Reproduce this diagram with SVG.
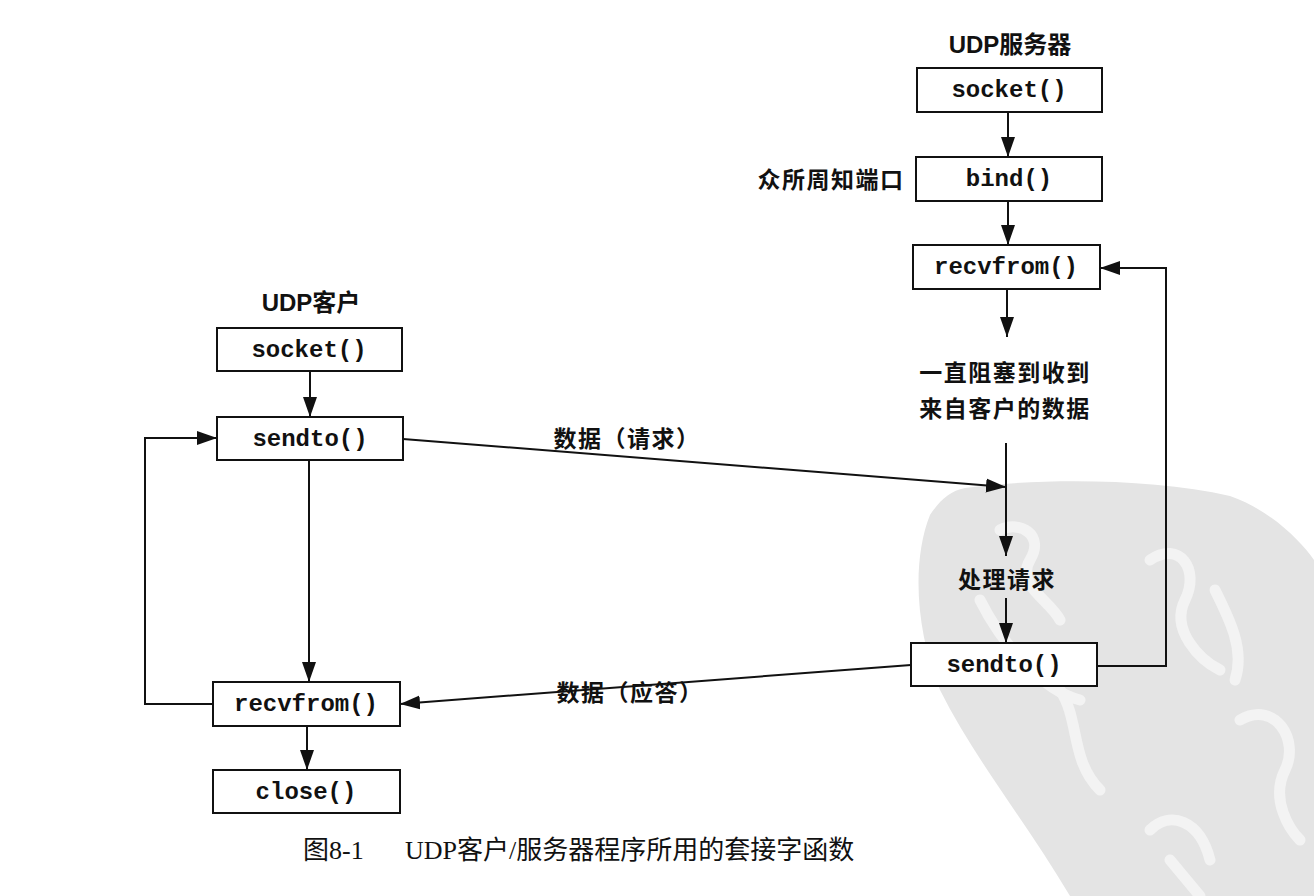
<svg xmlns="http://www.w3.org/2000/svg" width="1314" height="896" viewBox="0 0 1314 896">
  <defs>
    <marker id="arrow" markerUnits="userSpaceOnUse" markerWidth="21" markerHeight="15" refX="20" refY="7" orient="auto">
      <path d="M0,0 L20,7 L0,14 Z" fill="#111"/>
    </marker>
    <style>
      .box { fill: #fff; stroke: #111; stroke-width: 2; }
      .fn { font-family: "Liberation Mono", "DejaVu Sans Mono", monospace; font-weight: bold; font-size: 24px; fill: #111; text-anchor: middle; dominant-baseline: central; }
      .head { font-family: "Liberation Sans", "Noto Sans CJK SC", sans-serif; font-weight: bold; font-size: 24px; fill: #111; text-anchor: middle; dominant-baseline: central; }
      .lbl { font-family: "Noto Sans CJK SC", sans-serif; font-weight: bold; font-size: 23px; letter-spacing: 1.5px; fill: #111; text-anchor: middle; dominant-baseline: central; }
      .cap { font-family: "Liberation Serif", "Noto Sans CJK SC", serif; font-size: 26px; fill: #111; dominant-baseline: central; }
      .wire-arrow { fill: none; stroke: #111; stroke-width: 2; marker-end: url(#arrow); }
      .seal { fill: none; stroke: #f3f3f3; stroke-width: 11; stroke-linecap: round; stroke-linejoin: round; }
    </style>
  </defs>

  <rect width="1314" height="896" fill="#fff"/>

  <!-- library stamp in the lower right corner -->
  <g id="stamp">
    <path d="M 965 488 C 1040 478, 1150 478, 1230 496 C 1270 510, 1300 540, 1314 560 L 1314 896 L 1070 896 C 1025 820, 975 760, 940 690 C 915 630, 912 560, 930 515 C 940 500, 950 491, 965 488 Z" fill="#e4e4e4"/>
    <path class="seal" d="M 1000 530 C 1020 520, 1045 535, 1030 560 C 1015 585, 1050 600, 1060 620"/>
    <path class="seal" d="M 980 600 C 1000 640, 1040 690, 1080 700"/>
    <path class="seal" d="M 1060 690 C 1080 720, 1070 760, 1100 790"/>
    <path class="seal" d="M 1150 560 C 1180 540, 1200 570, 1185 600 C 1170 630, 1200 660, 1220 670"/>
    <path class="seal" d="M 1215 590 C 1230 620, 1245 650, 1235 680"/>
    <path class="seal" d="M 1240 720 C 1275 700, 1300 740, 1285 770 C 1270 800, 1290 830, 1300 840"/>
    <path class="seal" d="M 1150 830 C 1170 810, 1200 820, 1210 860 M 1170 860 L 1200 896"/>
  </g>

  <!-- connectors -->
  <g id="connectors">
    <!-- server side -->
    <line class="wire-arrow" x1="1008" y1="112" x2="1008" y2="157"/>
    <line class="wire-arrow" x1="1008" y1="201" x2="1008" y2="245"/>
    <line class="wire-arrow" x1="1007" y1="289" x2="1007" y2="337"/>
    <line class="wire-arrow" x1="1006" y1="443" x2="1006" y2="556"/>
    <line class="wire-arrow" x1="1006" y1="598" x2="1006" y2="643"/>
    <polyline class="wire-arrow" points="1097,666 1166,666 1166,268 1100,268"/>
    <!-- client side -->
    <line class="wire-arrow" x1="310" y1="371" x2="310" y2="417"/>
    <line class="wire-arrow" x1="309" y1="460" x2="309" y2="682"/>
    <line class="wire-arrow" x1="307" y1="726" x2="307" y2="770"/>
    <polyline class="wire-arrow" points="213,704 145,704 145,438 217,438"/>
    <!-- datagrams -->
    <line class="wire-arrow" x1="403" y1="439" x2="1006" y2="487"/>
    <line class="wire-arrow" x1="911" y1="665" x2="400" y2="704"/>
  </g>

  <!-- UDP server -->
  <text class="head" x="1010" y="44">UDP服务器</text>
  <g id="srv-socket">
    <rect class="box" x="917" y="68" width="185" height="44"/>
    <text class="fn" x="1009" y="90">socket()</text>
  </g>
  <g id="srv-bind">
    <rect class="box" x="916" y="157" width="186" height="44"/>
    <text class="fn" x="1009" y="179">bind()</text>
  </g>
  <text class="lbl" x="831" y="178">众所周知端口</text>
  <g id="srv-recvfrom">
    <rect class="box" x="913" y="245" width="187" height="44"/>
    <text class="fn" x="1006" y="267">recvfrom()</text>
  </g>
  <text class="lbl" x="1005" y="371">一直阻塞到收到</text>
  <text class="lbl" x="1005" y="407">来自客户的数据</text>
  <text class="lbl" x="1007" y="578">处理请求</text>
  <g id="srv-sendto">
    <rect class="box" x="911" y="643" width="186" height="43"/>
    <text class="fn" x="1004" y="665">sendto()</text>
  </g>

  <!-- UDP client -->
  <text class="head" x="311" y="302">UDP客户</text>
  <g id="cli-socket">
    <rect class="box" x="217" y="328" width="185" height="43"/>
    <text class="fn" x="309" y="350">socket()</text>
  </g>
  <g id="cli-sendto">
    <rect class="box" x="217" y="417" width="186" height="43"/>
    <text class="fn" x="310" y="439">sendto()</text>
  </g>
  <g id="cli-recvfrom">
    <rect class="box" x="213" y="682" width="187" height="44"/>
    <text class="fn" x="306" y="704">recvfrom()</text>
  </g>
  <g id="cli-close">
    <rect class="box" x="213" y="770" width="187" height="43"/>
    <text class="fn" x="306" y="792">close()</text>
  </g>

  <!-- datagram labels -->
  <text class="lbl" x="627" y="437">数据（请求）</text>
  <text class="lbl" x="630" y="691">数据（应答）</text>

  <!-- caption -->
  <text class="cap" x="303" y="850">图8-1</text>
  <text class="cap" x="405" y="850">UDP客户/服务器程序所用的套接字函数</text>
</svg>
